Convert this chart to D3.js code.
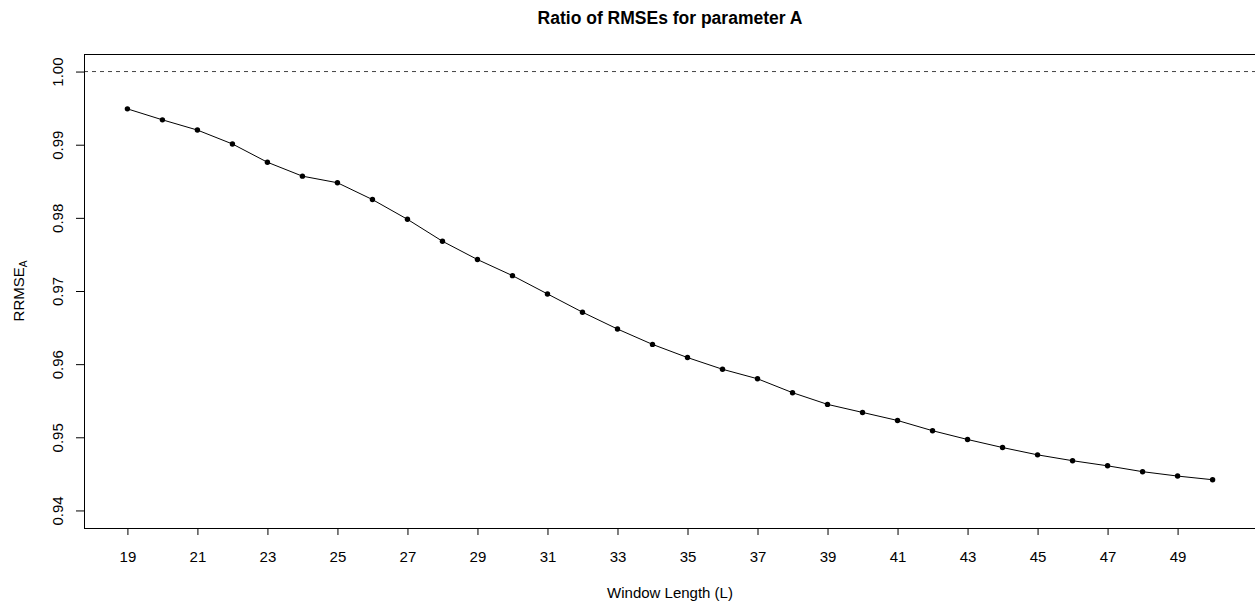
<!DOCTYPE html>
<html>
<head>
<meta charset="utf-8">
<script src="https://cdn.jsdelivr.net/npm/d3@7"></script>
<style>
  body { margin: 0; background: #fff; }
  svg { font-family: "Liberation Sans", Arial, sans-serif; }
</style>
</head>
<body>
<svg width="1255" height="608"></svg>
<script>
// window lengths and ratio of RMSEs
const windowLengths = d3.range(19, 51);
const rrmse = [
  0.9949, 0.9934, 0.9920, 0.9901, 0.9876, 0.9857, 0.9848, 0.9825,
  0.9798, 0.9768, 0.9743, 0.9721, 0.9696, 0.9671, 0.9648, 0.9627,
  0.9609, 0.9593, 0.9580, 0.9561, 0.9545, 0.9534, 0.9523, 0.9509,
  0.9497, 0.9486, 0.9476, 0.9468, 0.9461, 0.9453, 0.9447, 0.9442
];
const xTicks = d3.range(19, 50, 2);
const yTicks = [0.94, 0.95, 0.96, 0.97, 0.98, 0.99, 1.00];
const refLine = 1.0;

const data = windowLengths.map((L, i) => ({ L: L, v: rrmse[i] }));

const svg = d3.select('svg');
const box = { left: 84, right: 1256, top: 54, bottom: 528 };
const fontSize = 15;

// R style 4% padding on each side
const xPad = (50 - 19) * 0.04;
const yPad = (1.00 - 0.94) * 0.04;
const xScale = d3.scaleLinear()
  .domain([19 - xPad, 50 + xPad])
  .range([box.left, box.right]);
const yScale = d3.scaleLinear()
  .domain([0.94 - yPad, 1.00 + yPad])
  .range([box.bottom, box.top]);

// title
svg.append('text')
  .attr('x', (box.left + box.right) / 2)
  .attr('y', 23.5)
  .attr('text-anchor', 'middle')
  .attr('font-weight', 'bold')
  .attr('font-size', 17.5)
  .text('Ratio of RMSEs for parameter A');

// reference line
svg.append('line')
  .attr('x1', box.left).attr('x2', box.right)
  .attr('y1', yScale(refLine)).attr('y2', yScale(refLine))
  .attr('stroke', '#444')
  .attr('stroke-dasharray', '4,4');

// x axis
const xAxisG = svg.append('g')
  .attr('transform', `translate(0,${box.bottom})`)
  .call(d3.axisBottom(xScale).tickValues(xTicks).tickSize(7).tickFormat(d3.format('d')));
xAxisG.select('.domain')
  .attr('d', `M${xScale(19)},0.5H${xScale(49)}`);
xAxisG.selectAll('.tick text')
  .attr('y', 34).attr('dy', null)
  .attr('font-size', fontSize).attr('fill', '#000');

// y axis with rotated labels
const yAxisG = svg.append('g')
  .attr('transform', `translate(${box.left},0)`)
  .call(d3.axisLeft(yScale).tickValues(yTicks).tickSize(8).tickFormat(d3.format('.2f')));
yAxisG.select('.domain').remove();
yAxisG.selectAll('.tick text')
  .attr('x', null).attr('dy', null)
  .attr('text-anchor', 'middle')
  .attr('font-size', fontSize)
  .attr('fill', '#000')
  .attr('transform', 'translate(-21.5,0) rotate(-90)');

// plot box
svg.append('rect')
  .attr('x', box.left + 0.5).attr('y', box.top + 0.5)
  .attr('width', box.right - box.left).attr('height', box.bottom - box.top)
  .attr('fill', 'none')
  .attr('stroke', '#000');

// line and points
const line = d3.line()
  .x(d => xScale(d.L))
  .y(d => yScale(d.v));

svg.append('path')
  .datum(data)
  .attr('d', line)
  .attr('fill', 'none')
  .attr('stroke', '#000')
  .attr('stroke-width', 1);

svg.selectAll('circle.pt')
  .data(data)
  .enter().append('circle')
  .attr('class', 'pt')
  .attr('cx', d => xScale(d.L))
  .attr('cy', d => yScale(d.v))
  .attr('r', 2.7)
  .attr('fill', '#000');

// axis labels
svg.append('text')
  .attr('x', (box.left + box.right) / 2)
  .attr('y', 598)
  .attr('text-anchor', 'middle')
  .attr('font-size', fontSize)
  .text('Window Length (L)');

const yLab = svg.append('text')
  .attr('text-anchor', 'middle')
  .attr('font-size', fontSize)
  .attr('transform', `translate(24,${(box.top + box.bottom) / 2}) rotate(-90)`);
yLab.append('tspan').text('RRMSE');
yLab.append('tspan').attr('font-size', 10).attr('dy', 3).text('A');
</script>
</body>
</html>
